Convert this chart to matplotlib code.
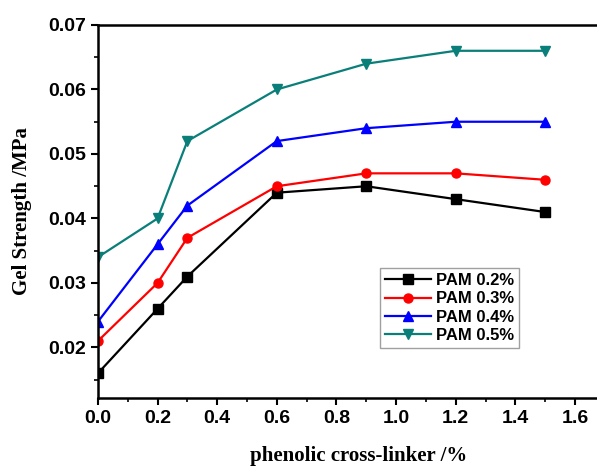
import numpy as np
import matplotlib.pyplot as plt
from matplotlib.ticker import MultipleLocator

# data
x = [0, 0.2, 0.3, 0.6, 0.9, 1.2, 1.5]
pam02 = [0.016, 0.026, 0.031, 0.044, 0.045, 0.043, 0.041]
pam03 = [0.021, 0.030, 0.037, 0.045, 0.047, 0.047, 0.046]
pam04 = [0.024, 0.036, 0.042, 0.052, 0.054, 0.055, 0.055]
pam05 = [0.034, 0.040, 0.052, 0.060, 0.064, 0.066, 0.066]
labels = ["PAM 0.2%", "PAM 0.3%", "PAM 0.4%", "PAM 0.5%"]

series = [pam02, pam03, pam04, pam05]
colors = ["black", "red", "blue", "#0a7f7a"]
markers = ["s", "o", "^", "v"]

fig = plt.figure(figsize=(5.97, 4.68), dpi=100)
ax = fig.add_axes([0.164, 0.150, 0.875, 0.7966])

for y, c, m, lab in zip(series, colors, markers, labels):
    ax.plot(x, y, color=c, marker=m, markersize=6.5, linewidth=1.6, label=lab)

ax.set_xlim(0, 1.752)
ax.set_ylim(0.0122, 0.07)
ax.set_xticks([0.0, 0.2, 0.4, 0.6, 0.8, 1.0, 1.2, 1.4, 1.6])
ax.set_yticks([0.02, 0.03, 0.04, 0.05, 0.06, 0.07])
ax.xaxis.set_minor_locator(MultipleLocator(0.1))
ax.yaxis.set_minor_locator(MultipleLocator(0.005))
ax.tick_params(which="major", direction="out", length=5, width=1.5)
ax.tick_params(which="minor", direction="out", length=3, width=1.2)
for sp in ax.spines.values():
    sp.set_linewidth(1.8)

for t in ax.get_xticklabels() + ax.get_yticklabels():
    t.set_fontfamily("Liberation Sans")
    t.set_fontweight("bold")
    t.set_fontsize(14)

ax.set_xlabel("phenolic cross-linker /%", fontfamily="Liberation Serif",
              fontweight="bold", fontsize=15, labelpad=14)
ax.set_ylabel("Gel Strength /MPa", fontfamily="Liberation Serif",
              fontweight="bold", fontsize=15, labelpad=12)

leg = ax.legend(loc="upper left", bbox_to_anchor=(0.636, 0.427),
                bbox_transform=fig.transFigure, borderaxespad=0,
                fancybox=False, edgecolor="#888888", handlelength=2.8,
                handletextpad=0.3, labelspacing=0.2, borderpad=0.3,
                prop={"family": "Liberation Sans", "weight": "bold", "size": 12})
leg.get_frame().set_linewidth(1.0)

fig.savefig("out.png", dpi=100)
